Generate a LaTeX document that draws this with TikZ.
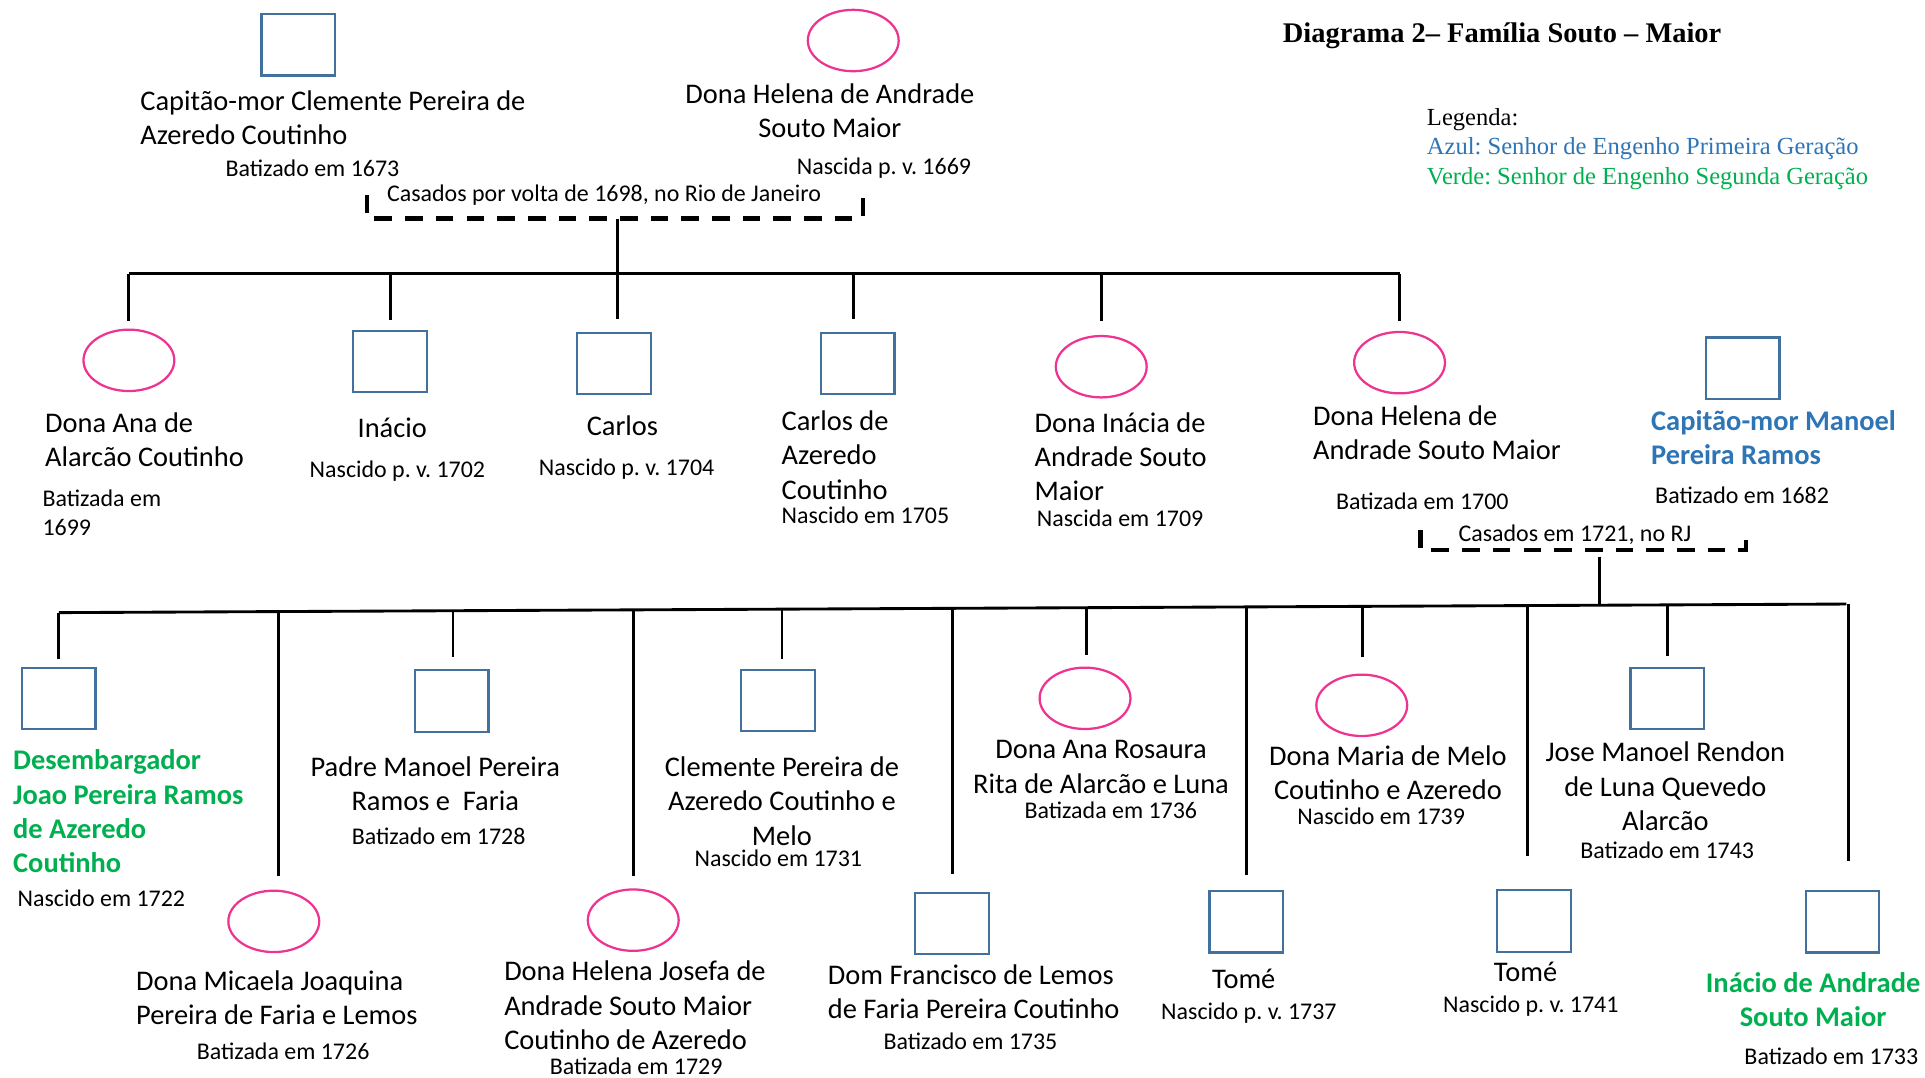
\documentclass[tikz,border=0pt]{standalone}
\usepackage{fontspec}
\setmainfont{Carlito}
\newfontfamily\tnr{Liberation Serif}
\usetikzlibrary{shapes.geometric,calc}
\definecolor{sqc}{RGB}{65,113,156}
\definecolor{pinkc}{RGB}{238,51,145}
\definecolor{bluec}{RGB}{46,117,182}
\definecolor{greenc}{RGB}{0,176,80}
\newcommand\bigf{\fontsize{13.9}{16.8}\selectfont}
\newcommand\smf{\fontsize{11.7}{14}\selectfont}
\frenchspacing
\begin{document}
\begin{tikzpicture}[x=0.6pt,y=-0.6pt,
  male/.style={draw=sqc,line width=1.1pt,rectangle,minimum width=36pt,minimum height=30pt,inner sep=0pt},
  female/.style={draw=pinkc,line width=1.1pt,ellipse,minimum width=44.4pt,minimum height=30pt,inner sep=0pt},
  nmL/.style={font=\bigf,inner sep=0pt,align=left,anchor=base west},
  nmC/.style={font=\bigf,inner sep=0pt,align=center,anchor=base},
  dtL/.style={font=\smf,inner sep=0pt,align=left,anchor=base west},
  dtC/.style={font=\smf,inner sep=0pt,align=center,anchor=base},
  link/.style={draw=black,line width=1.4pt},
  marriage/.style={draw=black,line width=2.2pt,dash pattern=on 8.6pt off 6.4pt}]
\useasboundingbox (0,0) rectangle (1568,878);

% ---------- title and legend ----------
\node[anchor=base,inner sep=0pt,font=\tnr\bfseries\fontsize{13.9}{16}\selectfont] (title) at (1223.5,35) {Diagrama 2– Família Souto – Maior};
\node[anchor=base west,inner sep=0pt,align=left,font=\tnr\fontsize{12}{14.4}\selectfont] (legend) at (1162,150)
  {Legenda:\\\textcolor{bluec}{Azul: Senhor de Engenho Primeira Geração}\\\textcolor{greenc}{Verde: Senhor de Engenho Segunda Geração}};

% ---------- first couple ----------
\node[male] (clem) at (243,36.5) {};
\node[female] (hel) at (695,33) {};
\node[nmL] (tclem) at (114,118) {Capitão-mor Clemente Pereira de\\Azeredo Coutinho};
\node[dtC] (dclem) at (254.5,144) {Batizado em 1673};
\node[nmC] (thel) at (676,112) {Dona Helena de Andrade\\Souto Maior};
\node[dtC] (dhel) at (720,142) {Nascida p. v. 1669};
\node[dtC] (cas1) at (492,164) {Casados por volta de 1698, no Rio de Janeiro};
\coordinate (m1a) at (299,159);
\coordinate (m1b) at (703,157);
\coordinate (b1) at (503,178);
\draw[marriage] (m1a) -- (m1a |- b1) -- (m1b |- b1) -- (m1b);

% ---------- children row 1 ----------
\node[female] (ana) at (105,293.5) {};
\node[male] (ina) at (317.5,294.5) {};
\node[male] (car) at (500,296) {};
\node[male] (cara) at (698.5,296) {};
\node[female] (inac) at (897,298.7) {};
\node[female] (hel2) at (1140,295.4) {};
\node[male] (man) at (1419.5,300) {};

\coordinate (r1a) at (105,223);
\coordinate (r1b) at (1140,223);
\coordinate (r1s) at (503,223);
\draw[link] (r1a) -- (r1b);
\draw[link] (b1) -- (r1s);
\coordinate (j1) at (105,223);
\coordinate (j2) at (318,223);
\coordinate (j3) at (503,223);
\coordinate (j4) at (695,223);
\coordinate (j5) at (897,223);
\coordinate (j6) at (1140,223);
\draw[link,shorten >=3.6pt] (j1) -- (j1 |- ana.north);
\draw[link,shorten >=4.6pt] (j2) -- (j2 |- ina.north);
\draw[link,shorten >=6pt] (j3) -- (j3 |- car.north);
\draw[link,shorten >=6pt] (j4) -- (j4 |- cara.north);
\draw[link,shorten >=7pt] (j5) -- (j5 |- inac.north);
\draw[link,shorten >=5pt] (j6) -- (j6 |- hel2.north);

\node[nmL] (tana) at (36.4,380) {Dona Ana de\\Alarcão Coutinho};
\node[dtL] (dana) at (34.3,435.8) {Batizada em\\1699};
\node[nmC] (tina) at (319.5,356.5) {Inácio};
\node[dtC] (dina) at (323.7,389) {Nascido p. v. 1702};
\node[nmC] (tcar) at (507,355) {Carlos};
\node[dtC] (dcar) at (510.4,387) {Nascido p. v. 1704};
\node[nmL] (tcara) at (636.4,406.5) {Carlos de\\Azeredo\\Coutinho};
\node[dtL] (dcara) at (636.4,426.3) {Nascido em 1705};
\node[nmL] (tinac) at (842.4,408) {Dona Inácia de\\Andrade Souto\\Maior};
\node[dtL] (dinac) at (844.3,428.7) {Nascida em 1709};
\node[nmL] (thel2) at (1069.2,374.5) {Dona Helena de\\Andrade Souto Maior};
\node[dtC] (dhel2) at (1158.5,414.6) {Batizada em 1700};
\node[nmL,font=\bigf\bfseries,text=bluec] (tman) at (1344.6,378.5) {Capitão-mor Manoel\\Pereira Ramos};
\node[dtC] (dman) at (1419,410) {Batizado em 1682};
\node[dtC] (cas2) at (1282.8,441.2) {Casados em 1721, no RJ};
\coordinate (m2a) at (1157,432);
\coordinate (m2b) at (1422,432);
\coordinate (m2c) at (1157,448);
\draw[marriage] (m2a) -- (m2c) -- (m2b |- m2c) -- (m2b);

% ---------- children row 2 ----------
\node[male] (des) at (47.8,569) {};
\node[female] (mic) at (223,750.5) {};
\node[male] (pad) at (367.8,571) {};
\node[female] (helj) at (515.8,749.5) {};
\node[male] (cle) at (633.8,570.5) {};
\node[male] (dom) at (775.6,752.2) {};
\node[female] (anr) at (883.8,568.8) {};
\node[male] (tom1) at (1015.2,750.8) {};
\node[female] (mar) at (1109.2,574.5) {};
\node[male] (tom2) at (1249.5,750.2) {};
\node[male] (jos) at (1358,568.8) {};
\node[male] (inaa) at (1500.8,750.8) {};

\coordinate (r2a) at (48,499);
\coordinate (r2b) at (1504,492);
\draw[link] (r2a) -- (r2b);
\coordinate (b2) at (1303,453.4);
\coordinate (r2s) at (1303,493);
\draw[link] (b2) -- (r2s);
\coordinate (k1) at (48,499);
\coordinate (k2) at (227,498.1);
\coordinate (k3) at (369,497.5);
\coordinate (k4) at (516,496.7);
\coordinate (k5) at (637,496.2);
\coordinate (k6) at (776,495.5);
\coordinate (k7) at (885,495);
\coordinate (k8) at (1015,494.4);
\coordinate (k9) at (1110,493.9);
\coordinate (k10) at (1244,493.2);
\coordinate (k11) at (1358,492.7);
\coordinate (k12) at (1506,492);
\draw[link,shorten >=3.8pt] (k1) -- (k1 |- des.north);
\draw[link,shorten >=6.5pt] (k2) -- (k2 |- mic.north);
\draw[link,shorten >=5.9pt] (k3) -- (k3 |- pad.north);
\draw[link,shorten >=6.1pt] (k4) -- (k4 |- helj.north);
\draw[link,shorten >=4.9pt] (k5) -- (k5 |- cle.north);
\draw[link,shorten >=8.5pt] (k6) -- (k6 |- dom.north);
\draw[link,shorten >=5.7pt] (k7) -- (k7 |- anr.north);
\draw[link,shorten >=7.4pt] (k8) -- (k8 |- tom1.north);
\draw[link,shorten >=8pt] (k9) -- (k9 |- mar.north);
\draw[link,shorten >=16.3pt] (k10) -- (k10 |- tom2.north);
\draw[link,shorten >=5.3pt] (k11) -- (k11 |- jos.north);
\draw[link,shorten >=14.3pt] (k12) -- (k12 |- inaa.north);

\node[nmL,font=\bigf\bfseries,text=greenc] (tdes) at (10.4,711) {Desembargador\\Joao Pereira Ramos\\de Azeredo\\Coutinho};
\node[dtL] (ddes) at (14,738.5) {Nascido em 1722};
\node[nmC] (tpad) at (354.5,660.3) {Padre Manoel Pereira\\Ramos e\ \ Faria};
\node[dtC] (dpad) at (357.3,688) {Batizado em 1728};
\node[nmC] (tcle) at (636.9,688.3) {Clemente Pereira de\\Azeredo Coutinho e\\Melo};
\node[dtC] (dcle) at (634,705.7) {Nascido em 1731};
\node[nmL] (tmic) at (110.6,834.6) {Dona Micaela Joaquina\\Pereira de Faria e Lemos};
\node[dtC] (dmic) at (230.6,862.6) {Batizada em 1726};
\node[nmL] (thelj) at (410.4,855) {Dona Helena Josefa de\\Andrade Souto Maior\\Coutinho de Azeredo};
\node[dtC] (dhelj) at (518.2,875.3) {Batizada em 1729};
\node[nmL] (tdom) at (674,830) {Dom Francisco de Lemos\\de Faria Pereira Coutinho};
\node[dtC] (ddom) at (790.5,855) {Batizado em 1735};
\node[nmC] (tanr) at (896.8,646) {Dona Ana Rosaura\\Rita de Alarcão e Luna};
\node[dtC] (danr) at (904.8,667) {Batizada em 1736};
\node[nmC] (tmar) at (1130.5,651.3) {Dona Maria de Melo\\Coutinho e Azeredo};
\node[dtC] (dmar) at (1125,671.2) {Nascido em 1739};
\node[nmC] (tjos) at (1356.5,676.6) {Jose Manoel Rendon\\de Luna Quevedo\\Alarcão};
\node[dtC] (djos) at (1358,698.9) {Batizado em 1743};
\node[nmC] (ttom1) at (1013.1,805) {Tomé};
\node[dtC] (dtom1) at (1017.3,830.6) {Nascido p. v. 1737};
\node[nmC] (ttom2) at (1242.6,799.8) {Tomé};
\node[dtC] (dtom2) at (1246.9,824.6) {Nascido p. v. 1741};
\node[nmC,font=\bigf\bfseries,text=greenc] (tinaa) at (1476.8,836.5) {Inácio de Andrade\\Souto Maior};
\node[dtC] (dinaa) at (1491.7,867.2) {Batizado em 1733};
\end{tikzpicture}
\end{document}
